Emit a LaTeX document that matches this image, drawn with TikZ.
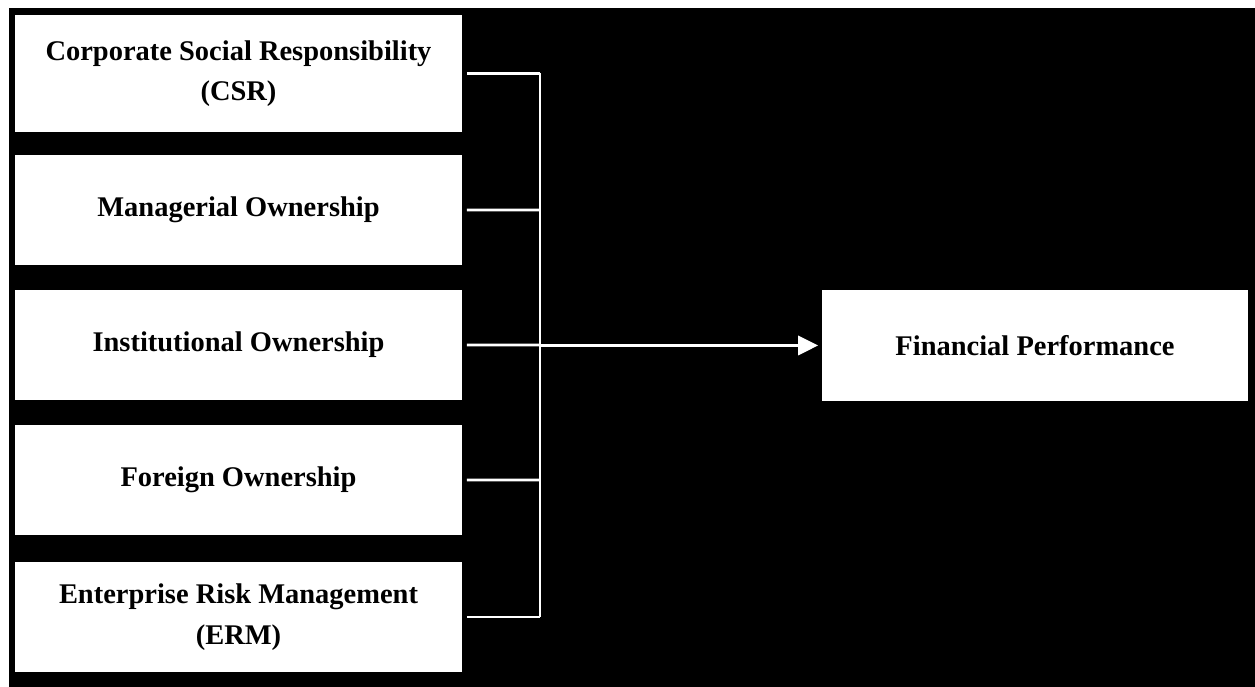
\documentclass[tikz,border=0pt]{standalone}
\usepackage{fontspec}
\setmainfont{Liberation Serif}
\usepackage{tikz}

\begin{document}
\begin{tikzpicture}[scale=0.2]
            \tikzset{factor/.style={fill=white, text=black, inner sep=0pt, align=center,
                font=\fontsize{16.2}{23}\selectfont\bfseries,
                minimum width=8.94cm, minimum height=2.2cm}}
            \useasboundingbox (0,0) rectangle (125.5,-68.7);
            \fill [black] (0.9,-0.8) rectangle (125.5,-68.7);
            % independent variables
            \node (csr) [factor, minimum height=2.34cm] at (23.85,-7.35) {Corporate Social Responsibility\\(CSR)};
            \node (mo) [factor] at (23.85,-21) {Managerial Ownership};
            \node (io) [factor] at (23.85,-34.5) {Institutional Ownership};
            \node (fo) [factor] at (23.85,-48) {Foreign Ownership};
            \node (erm) [factor] at (23.85,-61.7) {Enterprise Risk Management\\(ERM)};
            % dependent variable
            \node (fp) [factor, minimum width=8.52cm] at (103.5,-34.55) {Financial Performance};
            % bus on the right of the left column
            \coordinate (bustop) at (54,-7.35);
            \coordinate (busbot) at (54,-61.7);
            \draw [white, line width=1.5pt] (bustop) -- (busbot);
            \draw [white, line width=1.5pt] (csr.east) ++(0.45,0) -- (bustop);
            \draw [white, line width=1.5pt] (mo.east) ++(0.45,0) -- (54,-21);
            \draw [white, line width=1.5pt] (io.east) ++(0.45,0) -- (54,-34.5);
            \draw [white, line width=1.5pt] (fo.east) ++(0.45,0) -- (54,-48);
            \draw [white, line width=1.5pt] (erm.east) ++(0.45,0) -- (busbot);
            % arrow into financial performance
            \coordinate (tip) at (81.8,-34.55);
            \draw [white, line width=1.5pt] (54,-34.55) -- (79.8,-34.55);
            \fill [white] (tip) -- (79.8,-33.55) -- (79.8,-35.55) -- cycle;
\end{tikzpicture}
\end{document}
